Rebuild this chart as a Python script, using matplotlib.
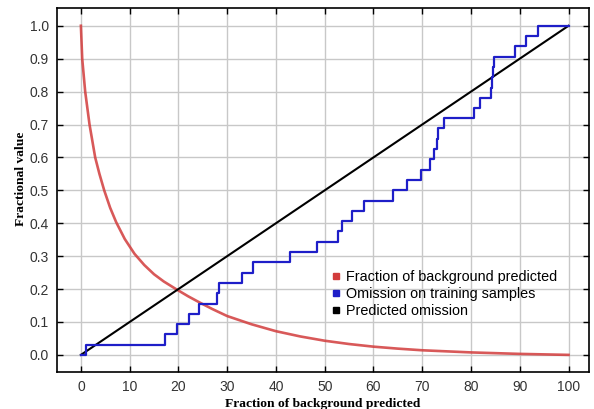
import matplotlib
matplotlib.use("Agg")
import matplotlib.pyplot as plt
from matplotlib.lines import Line2D
from matplotlib.ticker import FormatStrFormatter

# ---- data ----
bg_x = [0, 0.27, 0.88, 1.77, 2.93, 3.8, 4.78, 6.0, 7.24, 9.0, 11.0, 13.0, 15.0,
        17.0, 19.5, 22.0, 24.5, 27.0, 30, 35, 40, 45, 50, 55, 60, 65, 70, 80, 90, 100]
bg_y = [1.0, 0.9, 0.8, 0.7, 0.6, 0.55, 0.5, 0.447, 0.403, 0.352, 0.307, 0.273,
        0.245, 0.223, 0.2, 0.178, 0.158, 0.139, 0.118, 0.093, 0.072, 0.056, 0.043,
        0.033, 0.025, 0.019, 0.014, 0.0075, 0.003, 0.0]

om_x = [0, 1.0, 17.3, 19.7, 22.1, 24.3, 27.9, 28.4, 33.0, 35.3, 42.8, 48.4, 52.8,
        53.5, 55.6, 58.1, 64.0, 66.9, 69.7, 71.6, 72.5, 73.0, 73.3, 74.5, 80.7,
        81.8, 84.1, 84.3, 84.5, 84.8, 89.1, 91.3, 93.8, 100]
om_y = [0.0, 0.031, 0.062, 0.094, 0.125, 0.156, 0.188, 0.219, 0.25, 0.281, 0.312,
        0.344, 0.375, 0.406, 0.438, 0.469, 0.5, 0.531, 0.562, 0.594, 0.625, 0.656,
        0.688, 0.719, 0.75, 0.781, 0.812, 0.844, 0.875, 0.906, 0.938, 0.969, 1.0, 1.0]

pred_x = [0, 100]
pred_y = [0.0, 1.0]

x_ticks = [0, 10, 20, 30, 40, 50, 60, 70, 80, 90, 100]
y_ticks = [0.0, 0.1, 0.2, 0.3, 0.4, 0.5, 0.6, 0.7, 0.8, 0.9, 1.0]

labels = ["Fraction of background predicted",
          "Omission on training samples",
          "Predicted omission"]
colors = ["#d23c3c", "#1e1ec8", "#000000"]

fig = plt.figure(figsize=(5.94, 4.09), dpi=100)
ax = fig.add_axes([57 / 594, 1 - 372 / 409, (589 - 57) / 594, (372 - 8) / 409])

ax.plot(bg_x, bg_y, color=colors[0], lw=1.9, alpha=0.85, zorder=3)
ax.plot(om_x, om_y, color=colors[1], lw=1.6, drawstyle="steps-post", zorder=4)
ax.plot(pred_x, pred_y, color=colors[2], lw=1.5, zorder=3)

ax.set_xlim(-4.9, 104.2)
ax.set_ylim(-0.052, 1.054)
ax.set_xticks(x_ticks)
ax.set_yticks(y_ticks)
ax.yaxis.set_major_formatter(FormatStrFormatter("%.1f"))
ax.grid(True, color="#c8c8c8", lw=1.0, zorder=0)
ax.set_axisbelow(True)
ax.tick_params(direction="in", length=4, width=1, top=True, right=True,
               labelsize=10, labelcolor="#333333", pad=6)
for lab in ax.get_xticklabels() + ax.get_yticklabels():
    lab.set_fontfamily("Liberation Sans")
for s in ax.spines.values():
    s.set_linewidth(1.2)

ax.set_xlabel("Fraction of background predicted", fontfamily="Liberation Serif",
              fontweight="bold", fontsize=9.7, labelpad=3)
ax.set_ylabel("Fractional value", fontfamily="Liberation Serif",
              fontweight="bold", fontsize=9.7)
ax.yaxis.set_label_coords(-0.056, 0.53)

handles = [Line2D([], [], ls="none", marker="s", markersize=5, color=c) for c in colors]
leg = ax.legend(handles, labels, loc="upper left", bbox_to_anchor=(0.5, 0.296),
                frameon=False, handletextpad=0.2, handlelength=1.0,
                labelspacing=0.2, borderaxespad=0,
                prop={"family": "Liberation Sans", "size": 10.4})

fig.savefig("out.png", dpi=100)
